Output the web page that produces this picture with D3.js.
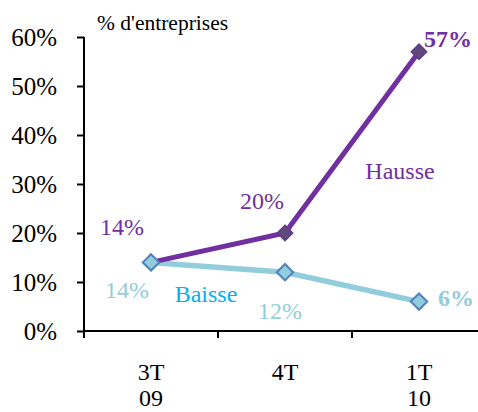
<!DOCTYPE html>
<html>
<head>
<meta charset="utf-8">
<script src="https://cdn.jsdelivr.net/npm/d3@7"></script>
<style>
  body { margin: 0; background: #fff; }
  svg text { font-family: "Liberation Serif", "Times New Roman", serif !important; }
</style>
</head>
<body>
<svg id="chart" width="478" height="412"></svg>
<script>
// Data
const periods = [['3T', '09'], ['4T', ''], ['1T', '10']];
const hausse = [14, 20, 57];
const baisse = [14, 12, 6];
const yTicks = [0, 10, 20, 30, 40, 50, 60];

const svg = d3.select('#chart');
const margin = { left: 84, top: 37, bottom: 81 };
const height = 412;

const x = d3.scaleBand()
  .domain(d3.range(periods.length))
  .range([margin.left, margin.left + 134 * periods.length]);

const y = d3.scaleLinear()
  .domain([0, 60])
  .range([height - margin.bottom, margin.top]);

// Y axis
const yAxis = svg.append('g')
  .attr('transform', `translate(${margin.left},0)`)
  .call(d3.axisLeft(y).tickValues(yTicks).tickSize(7).tickPadding(20).tickFormat(d => d + '%'));
yAxis.attr('font-family', null).attr('font-size', null);
yAxis.select('.domain').attr('stroke-width', 2).attr('d', `M0,${y(60)}V${y(0)}`);
yAxis.selectAll('.tick line').attr('stroke-width', 2);
yAxis.selectAll('.tick text')
  .attr('font-size', 25)
  .attr('dy', '0.34em')
  .attr('fill', '#000');

// X axis (ticks at category boundaries)
const bounds = d3.range(periods.length + 1).map(i => margin.left + i * x.bandwidth());
svg.append('line')
  .attr('x1', margin.left).attr('x2', 478)
  .attr('y1', y(0)).attr('y2', y(0))
  .attr('stroke', '#000').attr('stroke-width', 2);
svg.selectAll('.xtick')
  .data(bounds)
  .enter().append('line')
  .attr('x1', d => d).attr('x2', d => d)
  .attr('y1', y(0)).attr('y2', y(0) + 7)
  .attr('stroke', '#000').attr('stroke-width', 2);

const xLab = svg.selectAll('.xlab')
  .data(periods)
  .enter().append('text')
  .attr('text-anchor', 'middle')
  .attr('font-size', 24)
  .attr('fill', '#000');
xLab.append('tspan')
  .attr('x', (d, i) => x(i) + x.bandwidth() / 2)
  .attr('y', 380)
  .text(d => d[0]);
xLab.append('tspan')
  .attr('x', (d, i) => x(i) + x.bandwidth() / 2)
  .attr('y', 406)
  .text(d => d[1]);

// Unit label
svg.append('text')
  .attr('x', 97).attr('y', 30)
  .attr('font-size', 21.5)
  .text("% d'entreprises");

const cx = i => x(i) + x.bandwidth() / 2;
const line = d3.line().x((d, i) => cx(i)).y(d => y(d));

// Baisse series
svg.append('path')
  .datum(baisse)
  .attr('d', line)
  .attr('fill', 'none')
  .attr('stroke', '#92CDDC')
  .attr('stroke-width', 5.5);

// Hausse series
svg.append('path')
  .datum(hausse)
  .attr('d', line)
  .attr('fill', 'none')
  .attr('stroke', '#7030A0')
  .attr('stroke-width', 5);

const diamond = d3.symbol().type(d3.symbolDiamond2);

svg.selectAll('.mh')
  .data(hausse)
  .enter().append('path')
  .attr('d', diamond.size(150))
  .attr('transform', (d, i) => `translate(${cx(i)},${y(d)})`)
  .attr('fill', '#604A7B')
  .attr('stroke', '#5F3C86')
  .attr('stroke-width', 1.5);

svg.selectAll('.mb')
  .data(baisse)
  .enter().append('path')
  .attr('d', diamond.size(170))
  .attr('transform', (d, i) => `translate(${cx(i)},${y(d)})`)
  .attr('fill', '#92CDDC')
  .attr('stroke', '#4F81BD')
  .attr('stroke-width', 2);

// Value labels: [dx, dy, bold]
const hausseLab = [[-29, -27, false], [-23, -24, false], [29, -5, true]];
const baisseLab = [[-24, 36, false], [-5, 47, false], [37, 4, true]];

svg.selectAll('.lh')
  .data(hausse)
  .enter().append('text')
  .attr('x', (d, i) => cx(i) + hausseLab[i][0])
  .attr('y', (d, i) => y(d) + hausseLab[i][1])
  .attr('text-anchor', 'middle')
  .attr('font-size', 24)
  .attr('font-weight', (d, i) => hausseLab[i][2] ? 'bold' : 'normal')
  .attr('fill', '#7030A0')
  .text(d => d + '%');

svg.selectAll('.lb')
  .data(baisse)
  .enter().append('text')
  .attr('x', (d, i) => cx(i) + baisseLab[i][0])
  .attr('y', (d, i) => y(d) + baisseLab[i][1])
  .attr('text-anchor', 'middle')
  .attr('font-size', 24)
  .attr('font-weight', (d, i) => baisseLab[i][2] ? 'bold' : 'normal')
  .attr('fill', '#92CDDC')
  .text(d => d + '%');

// Series names
svg.append('text')
  .attr('x', 400).attr('y', 179)
  .attr('text-anchor', 'middle')
  .attr('font-size', 24)
  .attr('fill', '#7030A0')
  .text('Hausse');

svg.append('text')
  .attr('x', 206).attr('y', 302)
  .attr('text-anchor', 'middle')
  .attr('font-size', 24)
  .attr('fill', '#00B0F0')
  .text('Baisse');
</script>
</body>
</html>
